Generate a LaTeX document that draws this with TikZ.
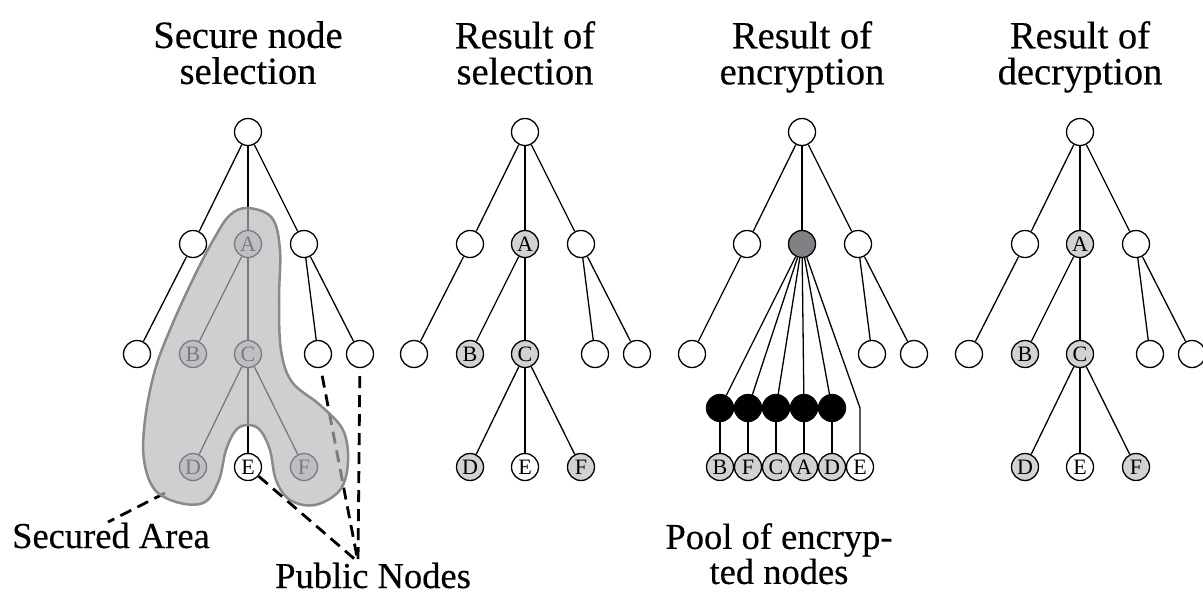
\documentclass[tikz,border=0pt]{standalone}
\usepackage{fontspec}
\setmainfont{Liberation Serif}
\newfontfamily\heavyserif{Liberation Serif}[FakeBold=0.4]
\definecolor{selgray}{RGB}{209,210,212}
\definecolor{encgray}{RGB}{128,129,133}
\definecolor{areafill}{RGB}{182,183,186}
\definecolor{arealine}{RGB}{138,138,140}
\tikzset{
  vert/.style={draw, circle, line width=1.3pt, minimum size=27pt, inner sep=0pt, fill=white, font=\fontsize{22}{22}\selectfont},
  sel/.style={vert, fill=selgray},
  enc/.style={vert, fill=black},
  edge/.style={draw, line width=1.3pt},
  hint/.style={draw, line width=2.8pt, dash pattern=on 12pt off 7pt},
  title/.style={align=center, inner sep=0pt, font=\heavyserif\fontsize{38.5}{36}\selectfont},
  note/.style={title, font=\heavyserif\fontsize{36.5}{35}\selectfont},
}

\begin{document}
\begin{tikzpicture}[x=1pt,y=-1pt]
\useasboundingbox (0,0) rectangle (1203,595);

% trees 1, 2 and 4
\foreach \p/\x in {s/248, r/525, d/1080} {
\node[vert] (\p0) at (\x,132) {};
\node[vert] (\p1) at (\x-55,244) {};
\node[sel] (\p A) at (\x,244) {A};
\node[vert] (\p2) at (\x+56,244) {};
\node[vert] (\p3) at (\x-111,354) {};
\node[sel] (\p B) at (\x-55,354) {B};
\node[sel] (\p C) at (\x,354) {C};
\node[vert] (\p4) at (\x+70,354) {};
\node[vert] (\p5) at (\x+112,354) {};
\node[sel] (\p D) at (\x-55,467) {D};
\node[vert] (\p E) at (\x,467) {E};
\node[sel] (\p F) at (\x+56,467) {F};
\path[edge] (\p0) -- (\p1);
\path[edge] (\p0) -- (\p A);
\path[edge] (\p0) -- (\p2);
\path[edge] (\p1) -- (\p3);
\path[edge] (\p A) -- (\p B);
\path[edge] (\p A) -- (\p C);
\path[edge] (\p2) -- (\p4);
\path[edge] (\p2) -- (\p5);
\path[edge] (\p C) -- (\p D);
\path[edge] (\p C) -- (\p E);
\path[edge] (\p C) -- (\p F);
}

% tree 3
\node[vert] (e0) at (802,132) {};
\node[vert] (e1) at (747,244) {};
\node[vert, fill=encgray] (eA) at (802,244) {};
\node[vert] (e2) at (858,244) {};
\node[vert] (e3) at (692,354) {};
\node[vert] (e4) at (872,354) {};
\node[vert] (e5) at (914,354) {};
\path[edge] (e0) -- (e1);
\path[edge] (e0) -- (eA);
\path[edge] (e0) -- (e2);
\path[edge] (e1) -- (e3);
\path[edge] (e2) -- (e4);
\path[edge] (e2) -- (e5);
\foreach \l [count=\i] in {B,F,C,A,D} {
\node[enc] (k\l) at (692+28*\i,408) {};
\node[sel] (q\l) at (692+28*\i,467) {\l};
\path[edge] (eA) -- (k\l);
\path[edge] (k\l) -- (q\l);
}
\node[vert] (qE) at (860,467) {E};
\coordinate (kE) at (860,408);
\path[edge] (eA) -- (kE) -- (qE);

% pointers
\coordinate (sa1) at (165,493);
\coordinate (sa2) at (108,522);
\coordinate (pt) at (358,562);
\path[hint] (sa1) -- (sa2);
\path[hint] (sE) -- (pt);
\path[hint, shorten <=8pt] (s4) -- (pt);
\path[hint, shorten <=8pt] (s5) -- (pt);

% secured area
\draw[arealine, line width=2.5pt, fill=areafill, fill opacity=0.67]
  plot[smooth cycle, tension=0.6] coordinates {(248,208) (272,218) (280,250) (279,300) (281,350)
  (292,382) (320,405) (343,430) (348,462) (340,490) (315,505) (290,500) (276,480) (270,450)
  (260,430) (248,425) (236,430) (226,450) (219,480) (205,502) (180,503) (155,490) (144,460)
  (145,420) (155,370) (172,325) (195,275) (215,237) (230,215)};

% texts
\node[title, anchor=north] (h1) at (248,21) {Secure node\\selection};
\node[title, anchor=north] (h2) at (525,21) {Result of\\selection};
\node[title, anchor=north] (h3) at (802,21) {Result of\\encryption};
\node[title, anchor=north] (h4) at (1080,21) {Result of\\decryption};
\node[note, anchor=base west] (sa) at (12,548) {Secured Area};
\node[note, anchor=base west] (pn) at (275,588) {Public Nodes};
\node[note, anchor=north] (pool) at (779,523) {Pool of encryp-\\ted nodes};
\end{tikzpicture}
\end{document}
